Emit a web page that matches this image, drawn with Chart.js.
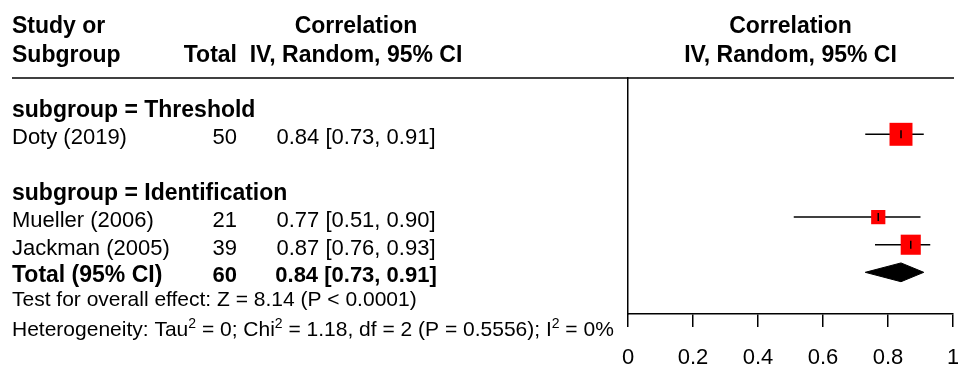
<!DOCTYPE html>
<html>
<head>
<meta charset="utf-8">
<title>Forest plot – correlation</title>
<script src="https://cdn.jsdelivr.net/npm/chart.js@4.4.1/dist/chart.umd.min.js"></script>
<style>
  html, body { margin: 0; padding: 0; background: #ffffff; }
  #c { display: block; }
</style>
</head>
<body>
<canvas id="c" width="958" height="367"></canvas>
<script>
// ---- data ----
const subgroupNames = ['subgroup = Threshold', 'subgroup = Identification'];
const studies   = ['Doty (2019)', 'Mueller (2006)', 'Jackman (2005)'];
const totals    = [50, 21, 39];
const estimates = [0.84, 0.77, 0.87];
const lowerCI   = [0.73, 0.51, 0.76];
const upperCI   = [0.91, 0.90, 0.93];
const pooledLabel = 'Total (95% CI)';
const pooledTotal = 60;
const pooledEst   = 0.84;
const pooledLower = 0.73;
const pooledUpper = 0.91;
const xTicks = [0, 0.2, 0.4, 0.6, 0.8, 1];
const overallTest = 'Test for overall effect: Z = 8.14 (P < 0.0001)';
const heterogeneity = { tau2: '0', chi2: '1.18', df: '2', p: '0.5556', i2: '0%' };

// ---- layout (row slots, top to bottom) ----
const subgroupRows = [1, 4];
const studyRows = [2, 5, 6];
const totalRow = 7;
const testRow = 7.85;
const hetRow = 8.95;

const FONT = '"Liberation Sans", Arial, Helvetica, sans-serif';
const fmt = v => v.toFixed(2);
const ciText = (e, l, u) => `${fmt(e)} [${fmt(l)}, ${fmt(u)}]`;

// square side follows inverse-variance weight of Fisher z (n - 3)
const squareSide = n => 3.35 * Math.sqrt(n - 3);
const DIAMOND_HALF = 0.34;

const datasets = [];

// small vertical marks at each point estimate (on top)
datasets.push({
  type: 'scatter',
  order: 1,
  data: estimates.map((e, i) => ({ x: e, y: studyRows[i] })),
  pointStyle: 'line',
  rotation: 90,
  pointRadius: 4,
  borderColor: '#000000',
  borderWidth: 1.5
});

// weighted squares
datasets.push({
  type: 'scatter',
  order: 2,
  data: estimates.map((e, i) => ({ x: e, y: studyRows[i] })),
  pointStyle: 'rect',
  pointRadius: totals.map(n => squareSide(n) / (2 * Math.SQRT1_2)),
  backgroundColor: '#ff0000',
  borderColor: '#ff0000',
  borderWidth: 0
});

// confidence interval whiskers
studies.forEach((s, i) => {
  datasets.push({
    type: 'line',
    order: 3,
    data: [{ x: lowerCI[i], y: studyRows[i] }, { x: upperCI[i], y: studyRows[i] }],
    borderColor: '#000000',
    borderWidth: 1.5,
    pointRadius: 0,
    fill: false
  });
});

// pooled diamond
datasets.push({
  type: 'line',
  order: 4,
  data: [
    { x: pooledLower, y: totalRow },
    { x: pooledEst, y: totalRow - DIAMOND_HALF },
    { x: pooledUpper, y: totalRow },
    { x: pooledEst, y: totalRow + DIAMOND_HALF },
    { x: pooledLower, y: totalRow }
  ],
  borderColor: '#000000',
  backgroundColor: '#000000',
  borderWidth: 1,
  pointRadius: 0,
  tension: 0,
  fill: 'shape'
});

// table text and header rule
const tablePlugin = {
  id: 'forestTable',
  afterDraw(chart) {
    const ctx = chart.ctx;
    const y = chart.scales.y;
    const area = chart.chartArea;
    const rowY = r => y.getPixelForValue(r) + 10;
    const bold = `bold 23px ${FONT}`;
    const boldNum = `bold 22px ${FONT}`;
    const reg = `22px ${FONT}`;
    const small = `21px ${FONT}`;
    ctx.save();
    ctx.fillStyle = '#000000';
    ctx.textBaseline = 'alphabetic';

    // column headers
    ctx.font = bold;
    ctx.textAlign = 'left';
    ctx.fillText('Study or', 12, 33);
    ctx.fillText('Subgroup', 12, 62);
    ctx.textAlign = 'right';
    ctx.fillText('Total', 237, 62);
    ctx.textAlign = 'center';
    ctx.fillText('Correlation', 356, 33);
    ctx.fillText('IV, Random, 95% CI', 356, 62);
    const mid = (area.left + area.right) / 2;
    ctx.fillText('Correlation', mid, 33);
    ctx.fillText('IV, Random, 95% CI', mid, 62);

    // header rule
    ctx.strokeStyle = '#000000';
    ctx.lineWidth = 1.5;
    ctx.beginPath();
    ctx.moveTo(12, area.top);
    ctx.lineTo(954, area.top);
    ctx.stroke();

    // subgroup titles
    ctx.font = bold;
    ctx.textAlign = 'left';
    subgroupNames.forEach((g, i) => ctx.fillText(g, 12, rowY(subgroupRows[i])));

    // study rows
    ctx.font = reg;
    studies.forEach((s, i) => {
      const py = rowY(studyRows[i]);
      ctx.textAlign = 'left';
      ctx.fillText(s, 12, py);
      ctx.textAlign = 'right';
      ctx.fillText(String(totals[i]), 237, py);
      ctx.textAlign = 'center';
      ctx.fillText(ciText(estimates[i], lowerCI[i], upperCI[i]), 356, py);
    });

    // pooled row
    const pt = rowY(totalRow);
    ctx.font = bold;
    ctx.textAlign = 'left';
    ctx.fillText(pooledLabel, 12, pt);
    ctx.font = boldNum;
    ctx.textAlign = 'right';
    ctx.fillText(String(pooledTotal), 237, pt);
    ctx.textAlign = 'center';
    ctx.fillText(ciText(pooledEst, pooledLower, pooledUpper), 356, pt);

    // test lines
    ctx.font = small;
    ctx.textAlign = 'left';
    ctx.fillText(overallTest, 12, rowY(testRow));

    const h = heterogeneity;
    const parts = [
      ['Heterogeneity: Tau', false], ['2', true],
      [` = ${h.tau2}; Chi`, false], ['2', true],
      [` = ${h.chi2}, df = ${h.df} (P = ${h.p}); I`, false], ['2', true],
      [` = ${h.i2}`, false]
    ];
    let hx = 12;
    const hy = rowY(hetRow);
    parts.forEach(([t, sup]) => {
      ctx.font = sup ? `14px ${FONT}` : small;
      ctx.fillText(t, hx, sup ? hy - 8 : hy);
      hx += ctx.measureText(t).width;
    });
    ctx.restore();
  }
};

new Chart(document.getElementById('c'), {
  type: 'scatter',
  data: { datasets },
  options: {
    responsive: false,
    animation: false,
    events: [],
    layout: { autoPadding: false, padding: { left: 628, right: 5, top: 78, bottom: 0 } },
    plugins: {
      legend: { display: false },
      tooltip: { enabled: false },
      title: { display: false }
    },
    scales: {
      x: {
        type: 'linear',
        min: 0,
        max: 1,
        position: 'bottom',
        afterBuildTicks: s => { s.ticks = xTicks.map(v => ({ value: v })); },
        ticks: {
          font: { family: FONT, size: 22, lineHeight: 1 },
          color: '#000000',
          padding: 20,
          maxRotation: 0,
          autoSkip: false,
          callback: v => String(v)
        },
        grid: { drawOnChartArea: false, drawTicks: true, tickLength: 13, color: '#000000', lineWidth: 1.5 },
        border: { display: true, color: '#000000', width: 1.5 },
        afterFit: s => { s.height = 53; s.paddingLeft = 0; s.paddingRight = 0; }
      },
      y: {
        type: 'linear',
        reverse: true,
        min: -0.04,
        max: 8.51,
        position: 'left',
        ticks: { display: false },
        grid: { display: false, drawTicks: false },
        border: { display: true, color: '#000000', width: 1.5 },
        afterFit: s => { s.width = 0; }
      }
    }
  },
  plugins: [tablePlugin]
});
</script>
</body>
</html>
